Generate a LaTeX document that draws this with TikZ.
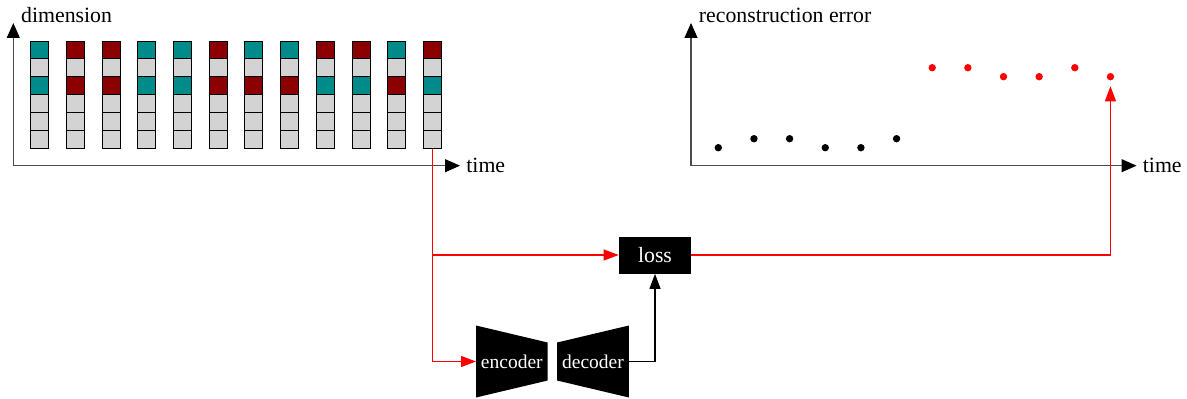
\documentclass[tikz,border=0pt]{standalone}
\usepackage{fontspec}
\setmainfont{Liberation Serif}
\usetikzlibrary{arrows.meta, backgrounds}

\definecolor{cellteal}{HTML}{008B8B}
\definecolor{cellred}{HTML}{8B0000}
\definecolor{cellgray}{HTML}{D3D3D3}

\tikzset{
    cell/.style={draw=black, line width=0.5pt, minimum width=0.36cm, minimum height=0.357cm, inner sep=0},
    dot/.style={circle, fill=#1, inner sep=0, minimum size=0.148cm},
    axis/.style={draw=black!70, line width=0.6pt, -{Triangle[length=0.3cm, width=0.26cm, black]}},
    flow/.style={draw=red, line width=0.6pt, -{Triangle[length=0.3cm, width=0.22cm]}},
    link/.style={draw=black, line width=0.6pt, -{Triangle[length=0.3cm, width=0.22cm]}},
    block/.style={fill=black, text=white, minimum width=1.44cm, minimum height=0.74cm, inner sep=0},
    coder/.style={text=white, font=\fontsize{11.1}{13}\selectfont, minimum width=1.434cm, minimum height=1.44cm, inner sep=0, outer sep=0},
}

\begin{document}
\begin{tikzpicture}[font=\fontsize{12.4}{14}\selectfont]
    \useasboundingbox (0,0) rectangle (23.74,7.96);

    % input axes
    \coordinate (o1) at (0.266,4.646);
    \draw[axis] (o1) -- ++(0,2.854) node[anchor=base west, xshift=0.03cm] (dimlabel) {dimension};
    \draw[axis] (o1) -- ++(8.934,0) node[right] (time1) {time};

    % input window
    \foreach \first/\third [count=\i] in {teal/teal, red/red, red/red, teal/teal, teal/teal, red/red,
                                          teal/red, teal/red, red/teal, red/teal, teal/red, red/teal} {
        \foreach \j in {1,...,6} {
            \def\shade{cellgray}
            \ifnum\j=1 \def\shade{cell\first}\fi
            \ifnum\j=3 \def\shade{cell\third}\fi
            \node[cell, fill=\shade] (c\i-\j) at ({0.794+0.714*(\i-1)}, {6.9615-0.357*(\j-1)}) {};
        }
    }

    % error axes
    \coordinate (o2) at (13.82,4.646);
    \draw[axis] (o2) -- ++(0,2.854) node[anchor=base west, xshift=0.03cm] (errlabel) {reconstruction error};
    \draw[axis] (o2) -- ++(8.91,0) node[right] (time2) {time};

    % errors
    \foreach \h [count=\k] in {0.36,0.54,0.54,0.36,0.36,0.54}
        \node[dot=black] (d\k) at ({14.366+0.713*(\k-1)}, {4.646+\h}) {};
    \foreach \h [count=\k from 7] in {1.96,1.96,1.78,1.78,1.96,1.78}
        \node[dot=red] (d\k) at ({14.366+0.713*(\k-1)}, {4.646+\h}) {};

    % model
    \node[coder] (enc) at (10.237,0.73) {encoder};
    \node[coder] (dec) at (11.86,0.73) {decoder};
    \begin{scope}[on background layer]
        \fill (enc.north west) -- ([yshift=-0.34cm]enc.north east) -- ([yshift=0.34cm]enc.south east) -- (enc.south west) -- cycle;
        \fill (dec.north east) -- ([yshift=-0.34cm]dec.north west) -- ([yshift=0.34cm]dec.south west) -- (dec.south east) -- cycle;
    \end{scope}

    % loss
    \node[block] (loss) at (13.1,2.86) {loss};

    % connections
    \draw[flow] (c12-6.south) |- (enc.west);
    \draw[flow] (c12-6.south |- loss.west) -- (loss.west);
    \draw[link] (dec.east) -| (loss.south);
    \draw[flow, shorten >=0.11cm] (loss.east) -| (d12);
\end{tikzpicture}
\end{document}
